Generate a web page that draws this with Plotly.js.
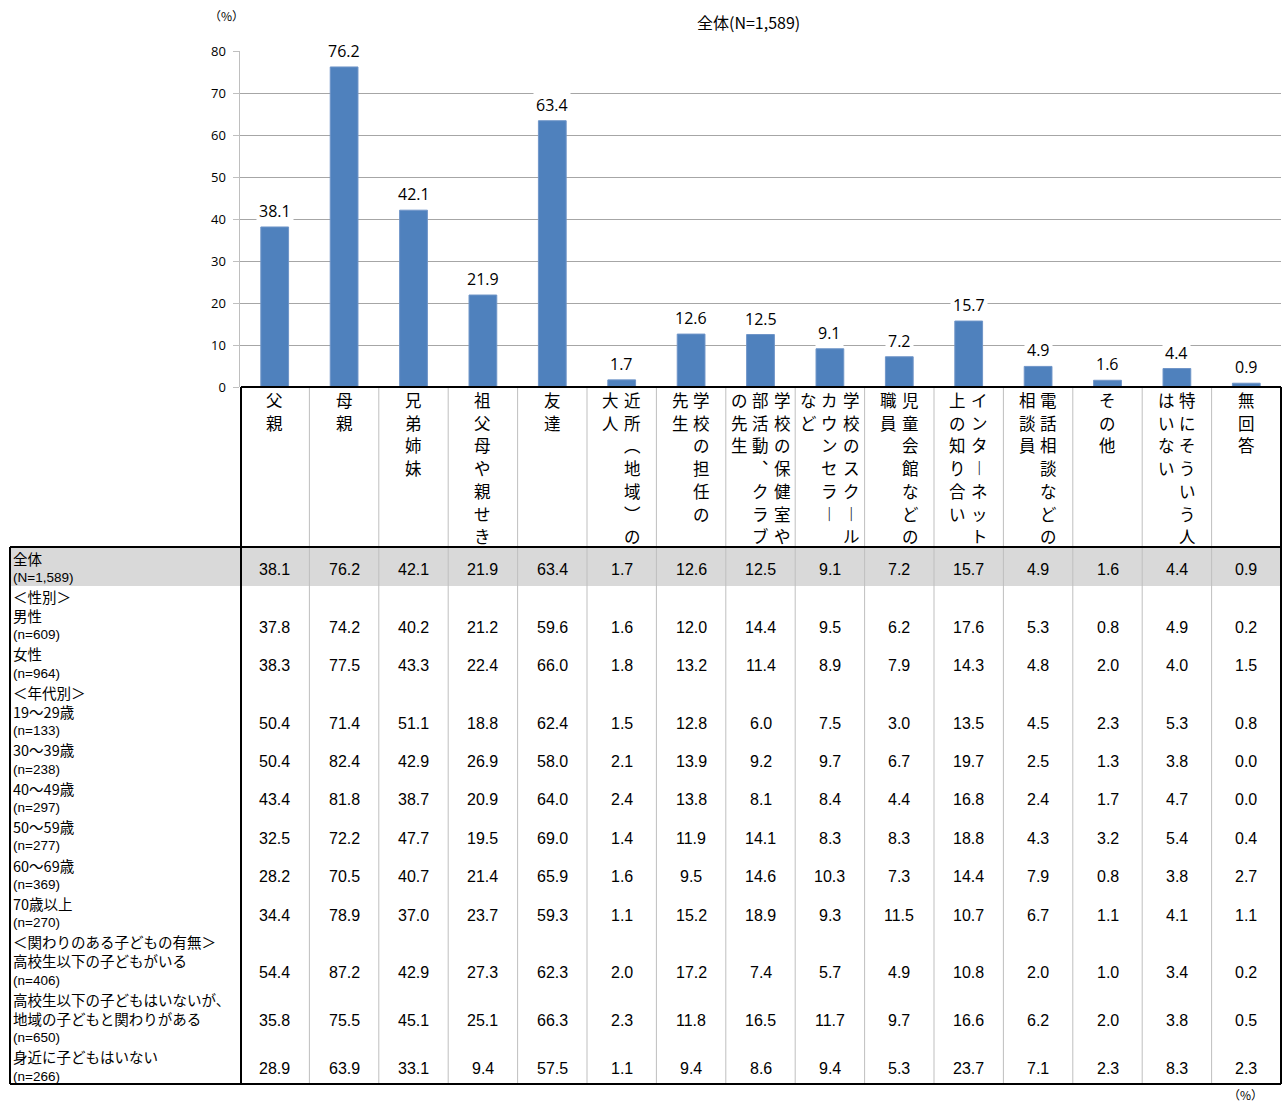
<!DOCTYPE html>
<html><head><meta charset="utf-8">
<script src="https://cdn.plot.ly/plotly-3.0.1.min.js"></script>
<style>html,body{margin:0;padding:0;background:#fff}</style>
</head><body><div id="chart" style="width:1282px;height:1103px"></div>
<script>
// ---------------- data ----------------
const categories = ['父親','母親','兄弟姉妹','祖父母や親せき','友達','近所（地域）の大人','学校の担任の先生',
  '学校の保健室や部活動、クラブの先生','学校のスクールカウンセラーなど','児童会館などの職員',
  'インターネット上の知り合い','電話相談などの相談員','その他','特にそういう人はいない','無回答'];
// vertical header text, columns read right to left
const headerLines = [
  ['父親'],['母親'],['兄弟姉妹'],['祖父母や親せき'],['友達'],
  ['近所︵地域︶の','大人'],['学校の担任の','先生'],
  ['学校の保健室や','部活動︑クラブ','の先生'],
  ['学校のスク︱ル','カウンセラ︱','など'],
  ['児童会館などの','職員'],['インタ︱ネット','上の知り合い'],
  ['電話相談などの','相談員'],['その他'],['特にそういう人','はいない'],['無回答']
];
const overall   = [38.1,76.2,42.1,21.9,63.4,1.7,12.6,12.5,9.1,7.2,15.7,4.9,1.6,4.4,0.9];
const male      = [37.8,74.2,40.2,21.2,59.6,1.6,12.0,14.4,9.5,6.2,17.6,5.3,0.8,4.9,0.2];
const female    = [38.3,77.5,43.3,22.4,66.0,1.8,13.2,11.4,8.9,7.9,14.3,4.8,2.0,4.0,1.5];
const age19_29  = [50.4,71.4,51.1,18.8,62.4,1.5,12.8,6.0,7.5,3.0,13.5,4.5,2.3,5.3,0.8];
const age30_39  = [50.4,82.4,42.9,26.9,58.0,2.1,13.9,9.2,9.7,6.7,19.7,2.5,1.3,3.8,0.0];
const age40_49  = [43.4,81.8,38.7,20.9,64.0,2.4,13.8,8.1,8.4,4.4,16.8,2.4,1.7,4.7,0.0];
const age50_59  = [32.5,72.2,47.7,19.5,69.0,1.4,11.9,14.1,8.3,8.3,18.8,4.3,3.2,5.4,0.4];
const age60_69  = [28.2,70.5,40.7,21.4,65.9,1.6,9.5,14.6,10.3,7.3,14.4,7.9,0.8,3.8,2.7];
const age70up   = [34.4,78.9,37.0,23.7,59.3,1.1,15.2,18.9,9.3,11.5,10.7,6.7,1.1,4.1,1.1];
const hasChild  = [54.4,87.2,42.9,27.3,62.3,2.0,17.2,7.4,5.7,4.9,10.8,2.0,1.0,3.4,0.2];
const localKids = [35.8,75.5,45.1,25.1,66.3,2.3,11.8,16.5,11.7,9.7,16.6,6.2,2.0,3.8,0.5];
const noKids    = [28.9,63.9,33.1,9.4,57.5,1.1,9.4,8.6,9.4,5.3,23.7,7.1,2.3,8.3,2.3];
const yTicks = [0,10,20,30,40,50,60,70,80];
const chartTitle = '全体(N=1,589)';
const unitLabel = '（%）';

const tableRows = [
  {lines:['全体','(N=1,589)'], values: overall},
  {lines:['＜性別＞'], values: null},
  {lines:['男性','(n=609)'], values: male},
  {lines:['女性','(n=964)'], values: female},
  {lines:['＜年代別＞'], values: null},
  {lines:['19～29歳','(n=133)'], values: age19_29},
  {lines:['30～39歳','(n=238)'], values: age30_39},
  {lines:['40～49歳','(n=297)'], values: age40_49},
  {lines:['50～59歳','(n=277)'], values: age50_59},
  {lines:['60～69歳','(n=369)'], values: age60_69},
  {lines:['70歳以上','(n=270)'], values: age70up},
  {lines:['＜関わりのある子どもの有無＞'], values: null},
  {lines:['高校生以下の子どもがいる','(n=406)'], values: hasChild},
  {lines:['高校生以下の子どもはいないが、','地域の子どもと関わりがある','(n=650)'], values: localKids},
  {lines:['身近に子どもはいない','(n=266)'], values: noKids}
];

// ---------------- layout helpers ----------------
const W = 1282, H = 1103;
const px = x => x / W;
const py = y => 1 - y / H;
const JP = '"Noto Sans CJK JP", "Noto Sans", sans-serif';
const NUM = '"Liberation Sans", Arial, sans-serif';
const PLOT_L = 240, PLOT_R = 1281, PLOT_T = 51, PLOT_B = 387;
const TABLE_L = 10, HEAD_B = 547, TOTAL_B = 586, TABLE_B = 1084;
const LINE0 = 558, LINE_STEP = 19.19;
const HEAD0 = 400, HEAD_STEP = 22.7, HEAD_COL = 21.5;

const annotations = [];
const shapes = [];

// title & units
annotations.push({xref:'paper', yref:'paper', x:px(748), y:py(22), text:chartTitle, showarrow:false,
  font:{family:JP, size:16, color:'#000'}, xanchor:'center', yanchor:'middle'});
annotations.push({xref:'paper', yref:'paper', x:px(226), y:py(15), text:unitLabel, showarrow:false,
  font:{family:JP, size:12, color:'#000'}, xanchor:'center', yanchor:'middle'});
annotations.push({xref:'paper', yref:'paper', x:px(1245), y:py(1094), text:unitLabel, showarrow:false,
  font:{family:JP, size:12, color:'#000'}, xanchor:'center', yanchor:'middle'});

// bar data labels
overall.forEach((v, i) => {
  annotations.push({xref:'x', yref:'y', x:i, y:v, text:v.toFixed(1), showarrow:false,
    yanchor:'bottom', yshift:2, bgcolor:'#ffffff', borderpad:2,
    font:{family:'"Open Sans", sans-serif', size:16, color:'#000'}});
});

// vertical header labels (one character per annotation)
headerLines.forEach((cols, i) => {
  const n = cols.length;
  cols.forEach((s, j) => {
    Array.from(s).forEach((ch, r) => {
      annotations.push({xref:'x', yref:'paper', x:i, y:py(HEAD0 + HEAD_STEP * r), text:ch,
        showarrow:false, xanchor:'center', yanchor:'middle', borderpad:0,
        xshift: ((n - 1) / 2 - j) * HEAD_COL,
        font:{family:JP, size:16.5, color:'#000'}});
    });
  });
});

// table body
let k = 0;
tableRows.forEach(row => {
  const ys = [];
  row.lines.forEach(t => {
    const y = LINE0 + LINE_STEP * k;
    ys.push(y);
    const small = t.startsWith('(');
    annotations.push({xref:'paper', yref:'paper', x:px(12), y:py(y), text:t, showarrow:false,
      xanchor:'left', yanchor:'middle', borderpad:0,
      font: small ? {family:NUM, size:13.5, color:'#000'} : {family:JP, size:14.5, color:'#000'}});
    k++;
  });
  if (row.values) {
    const yc = ys.reduce((a, b) => a + b, 0) / ys.length + 2;
    row.values.forEach((v, i) => {
      annotations.push({xref:'x', yref:'paper', x:i, y:py(yc), text:v.toFixed(1), showarrow:false,
        xanchor:'center', yanchor:'middle', font:{family:NUM, size:16, color:'#000'}});
    });
  }
});

// shaded total row
shapes.push({type:'rect', xref:'paper', yref:'paper', x0:px(TABLE_L), x1:px(PLOT_R), y0:py(HEAD_B), y1:py(TOTAL_B),
  fillcolor:'#d9d9d9', line:{width:0}, layer:'below'});
// column separators
for (let i = 0; i < categories.length - 1; i++) {
  shapes.push({type:'line', xref:'x', yref:'paper', x0:i + 0.5, x1:i + 0.5, y0:py(PLOT_B), y1:py(TABLE_B),
    line:{color:'#bfbfbf', width:1}});
}
// black borders
const blk = {color:'#000', width:2};
[
  [241, PLOT_B, 241, TABLE_B],
  [241, PLOT_B, PLOT_R, PLOT_B],
  [PLOT_R, PLOT_B, PLOT_R, TABLE_B],
  [TABLE_L, HEAD_B, PLOT_R, HEAD_B],
  [TABLE_L, HEAD_B, TABLE_L, TABLE_B],
  [TABLE_L, TABLE_B, PLOT_R, TABLE_B]
].forEach(([a, b, c, d]) => shapes.push({type:'line', xref:'paper', yref:'paper',
  x0:px(a), y0:py(b), x1:px(c), y1:py(d), line:blk}));

const trace = {
  type:'bar', x: categories.map((_, i) => i), y: overall,
  marker:{color:'#4f81bd', line:{color:'#6f95c8', width:1}},
  width:0.4, hoverinfo:'skip'
};

const layout = {
  width: W, height: H,
  margin:{l:0, r:0, t:0, b:0},
  paper_bgcolor:'#ffffff', plot_bgcolor:'rgba(0,0,0,0)',
  showlegend:false,
  xaxis:{domain:[px(PLOT_L), px(PLOT_R)], range:[-0.5, 14.5], showticklabels:false, ticks:'',
    showgrid:false, zeroline:false, showline:false, fixedrange:true},
  yaxis:{domain:[py(PLOT_B), py(PLOT_T)], range:[0, 80], tickvals:yTicks,
    showgrid:true, gridcolor:'#a6a6a6', gridwidth:1, zeroline:false,
    showline:true, linecolor:'#bfbfbf', linewidth:1.5,
    ticks:'outside', ticklen:6, tickcolor:'#bfbfbf', ticklabelstandoff:4,
    tickfont:{family:'"Open Sans", sans-serif', size:13, color:'#000'}, fixedrange:true},
  annotations, shapes
};

Plotly.newPlot('chart', [trace], layout, {staticPlot:true, displayModeBar:false});
</script></body></html>
